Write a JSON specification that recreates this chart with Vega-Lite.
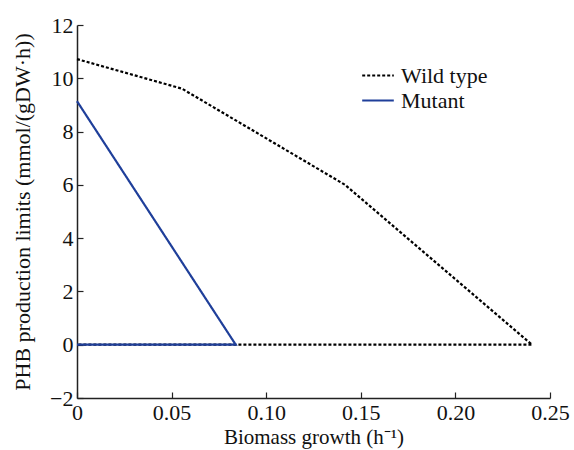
{
  "$schema": "https://vega.github.io/schema/vega-lite/v6.json",
  "width": 473,
  "height": 373,
  "autosize": "none",
  "padding": {"left": 77, "top": 25, "right": 24, "bottom": 52},
  "background": "#ffffff",
  "data": {
    "values": [
      {"series": "Wild type", "i": 1, "x": 0, "y": 10.72},
      {"series": "Wild type", "i": 2, "x": 0.0555, "y": 9.61},
      {"series": "Wild type", "i": 3, "x": 0.1417, "y": 6.0},
      {"series": "Wild type", "i": 4, "x": 0.2405, "y": 0},
      {"series": "Wild type", "i": 5, "x": 0, "y": 0},
      {"series": "Mutant", "i": 1, "x": 0, "y": 9.14},
      {"series": "Mutant", "i": 2, "x": 0.0839, "y": 0},
      {"series": "Mutant", "i": 3, "x": 0, "y": 0}
    ]
  },
  "mark": {"type": "line", "strokeWidth": 2.2},
  "encoding": {
    "x": {
      "field": "x", "type": "quantitative",
      "scale": {"domain": [0, 0.25], "nice": false, "zero": false},
      "axis": {
        "title": "Biomass growth (h⁻¹)",
        "values": [0, 0.05, 0.1, 0.15, 0.2, 0.25],
        "labelExpr": "datum.value == 0 ? '0' : format(datum.value, '.2f')",
        "grid": false, "domainColor": "#222222", "domainWidth": 1.5,
        "tickColor": "#222222", "tickWidth": 1.2, "tickSize": -6,
        "labelFont": "Liberation Serif, Times New Roman, serif", "labelFontSize": 22, "labelColor": "#111111",
        "labelPadding": 10, "labelFlush": false,
        "titleFont": "Liberation Serif, Times New Roman, serif", "titleFontSize": 21, "titleFontWeight": "normal",
        "titleColor": "#111111", "titlePadding": 3
      }
    },
    "y": {
      "field": "y", "type": "quantitative",
      "scale": {"domain": [-2, 12], "nice": false, "zero": false},
      "axis": {
        "title": "PHB production limits (mmol/(gDW·h))",
        "values": [-2, 0, 2, 4, 6, 8, 10, 12],
        "grid": false, "domainColor": "#222222", "domainWidth": 1.5,
        "tickColor": "#222222", "tickWidth": 1.2, "tickSize": -6,
        "labelFont": "Liberation Serif, Times New Roman, serif", "labelFontSize": 22, "labelColor": "#111111",
        "labelPadding": 10, "labelFlush": false,
        "titleFont": "Liberation Serif, Times New Roman, serif", "titleFontSize": 22, "titleFontWeight": "normal",
        "titleColor": "#111111", "titlePadding": 15
      }
    },
    "order": {"field": "i", "type": "quantitative"},
    "color": {
      "field": "series", "type": "nominal",
      "scale": {"domain": ["Wild type", "Mutant"], "range": ["#000000", "#1f3f9a"]},
      "legend": {
        "title": null, "orient": "none", "legendX": 284, "legendY": 38,
        "symbolType": "stroke", "symbolSize": 1000, "symbolStrokeWidth": 2.2,
        "clipHeight": 25,
        "labelFont": "Liberation Serif, Times New Roman, serif", "labelFontSize": 22, "labelColor": "#111111",
        "rowPadding": 0, "labelOffset": 6
      }
    },
    "strokeDash": {
      "field": "series", "type": "nominal",
      "scale": {"domain": ["Wild type", "Mutant"], "range": [[3, 2], [1, 0]]},
      "legend": null
    }
  },
  "config": {"view": {"stroke": null}}
}
